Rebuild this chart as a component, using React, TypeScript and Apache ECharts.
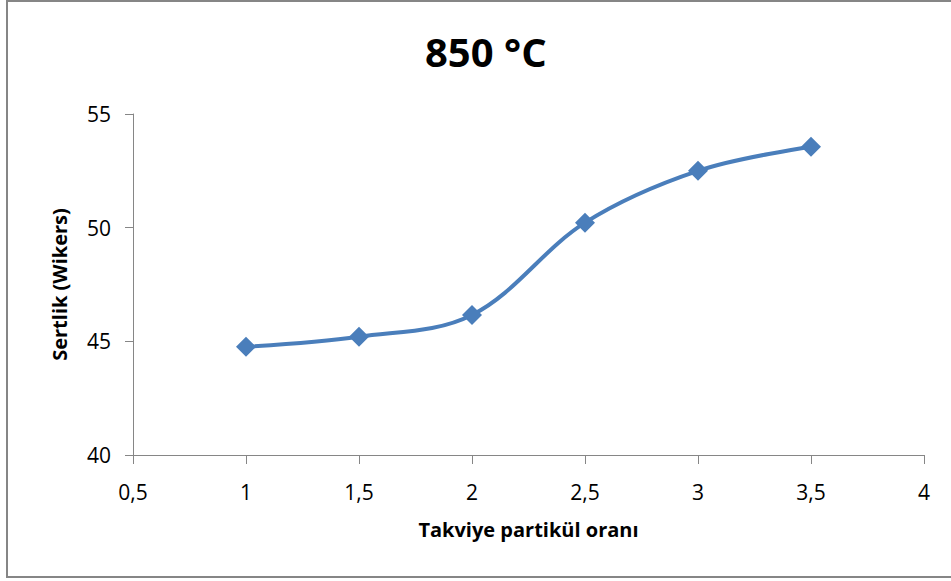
import React, { useEffect, useRef } from "react";
import * as echarts from "echarts";

const titleText = "850 °C";
const xName = "Takviye partikül oranı";
const yName = "Sertlik (Wikers)";
const xValues = [1, 1.5, 2, 2.5, 3, 3.5];
const yValues = [44.76, 45.2, 46.16, 50.22, 52.5, 53.56];

const FONT = "'Open Sans', 'Noto Sans', sans-serif";
const AXIS_COLOR = "#868686";

export default function App() {
  const ref = useRef<HTMLDivElement>(null);
  useEffect(() => {
    if (!ref.current) return;
    const chart = echarts.init(ref.current, undefined, { renderer: "svg" });
    chart.setOption({
      animation: false,
      backgroundColor: "#ffffff",
      title: {
        text: titleText,
        left: 420,
        top: 26,
        textStyle: { fontFamily: FONT, fontSize: 40, fontWeight: "bold", color: "#000" },
      },
      graphic: [
        {
          type: "rect",
          shape: { x: 7, y: 1, width: 980, height: 576 },
          style: { fill: "none", stroke: AXIS_COLOR, lineWidth: 2 },
          silent: true,
        },
      ],
      grid: { left: 133, right: 27, top: 114, bottom: 126 },
      xAxis: {
        type: "value",
        min: 0.5,
        max: 4,
        interval: 0.5,
        name: xName,
        nameLocation: "middle",
        nameGap: 64,
        nameTextStyle: { fontFamily: FONT, fontSize: 20, fontWeight: "bold", color: "#000" },
        axisLine: { show: true, lineStyle: { color: AXIS_COLOR, width: 1 } },
        axisTick: { show: true, length: 9, lineStyle: { color: AXIS_COLOR } },
        splitLine: { show: false },
        axisLabel: {
          fontFamily: FONT,
          fontSize: 21,
          color: "#000",
          margin: 26,
          formatter: (v: number) => String(v).replace(".", ","),
        },
      },
      yAxis: {
        type: "value",
        min: 40,
        max: 55,
        interval: 5,
        name: yName,
        nameLocation: "middle",
        nameGap: 64,
        nameTextStyle: { fontFamily: FONT, fontSize: 20, fontWeight: "bold", color: "#000" },
        axisLine: { show: true, lineStyle: { color: AXIS_COLOR, width: 1 } },
        axisTick: { show: true, length: 8, lineStyle: { color: AXIS_COLOR } },
        splitLine: { show: false },
        axisLabel: { fontFamily: FONT, fontSize: 21, color: "#000", margin: 22 },
      },
      series: [
        {
          type: "line",
          data: xValues.map((x, i) => [x, yValues[i]]),
          smooth: 0.35,
          symbol: "diamond",
          symbolSize: 20,
          lineStyle: { color: "#4a7ebb", width: 4 },
          itemStyle: { color: "#4a7ebb" },
        },
      ],
    });
    return () => chart.dispose();
  }, []);
  return (
    <div
      ref={ref}
      style={{ position: "fixed", left: 0, top: 0, width: 951, height: 581 }}
    />
  );
}
